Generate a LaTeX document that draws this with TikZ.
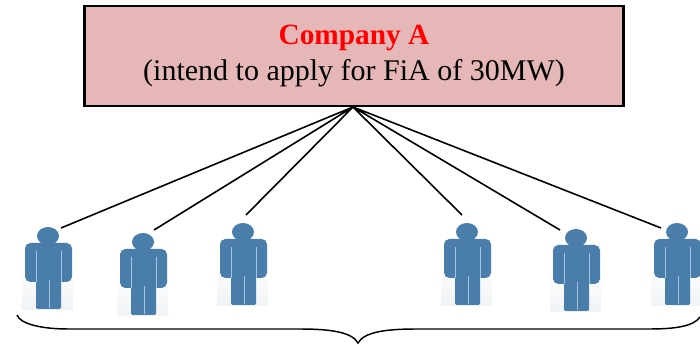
\documentclass[tikz,border=0pt]{standalone}
\usepackage{fontspec}
\setmainfont{Liberation Serif}
\usetikzlibrary{positioning}
\definecolor{boxfill}{RGB}{229,184,183}
\definecolor{personblue}{RGB}{74,126,170}
\definecolor{patchgrey}{RGB}{240,243,246}
\definecolor{slitblue}{RGB}{165,195,222}
\tikzset{
  x=0.75pt, y=-0.75pt,
  company/.style={draw=black, line width=2pt, fill=boxfill, minimum width=404pt, minimum height=75pt, align=center, inner sep=0pt},
  link/.style={black, line width=1.2pt},
  brace/.style={black, line width=1.1pt},
  person/.pic={
    \shade[top color=white, bottom color=patchgrey] (-26,30) rectangle (25,74);
    \fill[personblue, rounded corners=4pt] (-23,7) rectangle (24,46);
    \fill[personblue, rounded corners=1pt] (-12,20) rectangle (13,73);
    \fill[personblue] (0,0) ellipse (11 and 9);
    \draw[slitblue, line width=0.6pt] (1,44) -- (1,72);
    \draw[slitblue, line width=0.5pt] (-12,15) -- (-12,46) (13,15) -- (13,46);
  }
}
\begin{document}
\begin{tikzpicture}
  \useasboundingbox (0,0) rectangle (700,345);
  \node[company] (box) at (354,56) {\textcolor{red}{\fontsize{22}{26}\selectfont\bfseries Company A}\\[5pt]
    {\fontsize{22.5}{26}\selectfont (intend to apply for FiA of 30MW)}};
  \coordinate (top) at (353,107);
  \coordinate (l1) at (61,228);
  \coordinate (l2) at (154,230);
  \coordinate (l3) at (246,215);
  \coordinate (l4) at (462,215);
  \coordinate (l5) at (560,230);
  \coordinate (l6) at (661,228);
  \pic at (48,236) {person};
  \pic at (143,242) {person};
  \pic at (243,232) {person};
  \pic at (467,232) {person};
  \pic at (576,238) {person};
  \pic at (677,232) {person};
  \draw[link] (top) -- (l1) (top) -- (l2) (top) -- (l3)
    (top) -- (l4) (top) -- (l5) (top) -- (l6);
  % brace under the row
  \draw[brace] (17,315) .. controls (20,324) and (42,329) .. (68,329) -- (300,329)
    .. controls (330,329) and (352,332) .. (358,343)
    .. controls (364,332) and (386,329) .. (416,329) -- (650,329)
    .. controls (676,329) and (694,326) .. (700,317);
\end{tikzpicture}
\end{document}
